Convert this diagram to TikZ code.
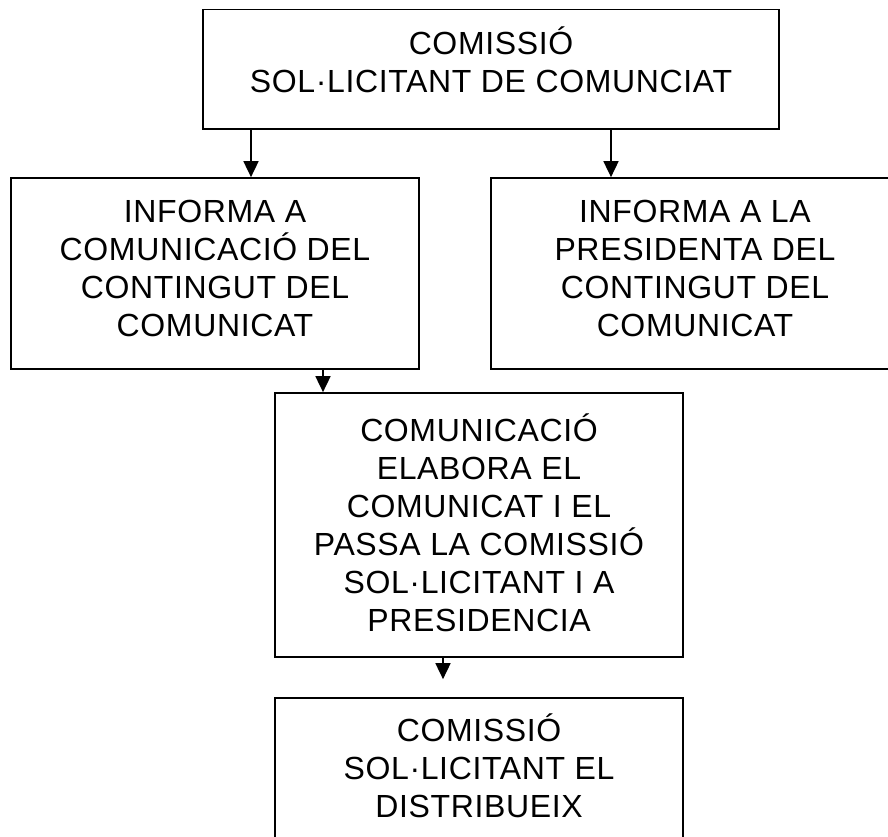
\documentclass[tikz,border=0pt]{standalone}
\usepackage{fontspec}
\setmainfont[LetterSpace=2]{Liberation Sans}
\usetikzlibrary{arrows.meta}
\tikzset{
  flowbox/.style={draw=black, line width=1.7pt, fill=white, inner sep=0pt,
    align=center, font=\fontsize{32}{38}\selectfont},
  flowarrow/.style={line width=1.7pt, -{Triangle[length=16pt,width=15pt]}}
}
\begin{document}
\begin{tikzpicture}[x=1pt,y=-1pt]
\useasboundingbox (0,0) rectangle (888,837);
\fill[white] (0,0) rectangle (888,837);
\clip (0,0) rectangle (888,837);
% boxes
\node[flowbox, minimum width=576pt, minimum height=119.5pt] (top) at (491,69.25)
  {\rule{0pt}{32pt}COMISSIÓ\\SOL·LICITANT DE COMUNCIAT\rule[-22.5pt]{0pt}{22.5pt}};
\node[flowbox, minimum width=408pt, minimum height=191pt] (left) at (215,273.5)
  {\rule{0pt}{32pt}INFORMA A\\COMUNICACIÓ DEL\\CONTINGUT DEL\\COMUNICAT\rule[-21pt]{0pt}{21pt}};
\node[flowbox, minimum width=408pt, minimum height=191pt] (right) at (695,273.5)
  {\rule{0pt}{32pt}INFORMA A LA\\PRESIDENTA DEL\\CONTINGUT DEL\\COMUNICAT\rule[-21pt]{0pt}{21pt}};
\node[flowbox, minimum width=408pt, minimum height=264pt] (mid) at (479,525)
  {\rule{0pt}{32pt}COMUNICACIÓ\\ELABORA EL\\COMUNICAT I EL\\PASSA LA COMISSIÓ\\SOL·LICITANT I A\\PRESIDENCIA\rule[-10pt]{0pt}{10pt}};
\node[flowbox, minimum width=408pt, minimum height=172pt] (bot) at (479,784)
  {\rule{0pt}{32pt}COMISSIÓ\\SOL·LICITANT EL\\DISTRIBUEIX\rule[-42pt]{0pt}{42pt}};
% arrow columns
\coordinate (c1) at (251,0);
\coordinate (c2) at (611,0);
\coordinate (c3) at (323,0);
\coordinate (c4) at (443,0);
\draw[flowarrow] (top.south -| c1) -- (left.north -| c1);
\draw[flowarrow] (top.south -| c2) -- (right.north -| c2);
\draw[flowarrow] (left.south -| c3) -- (mid.north -| c3);
\draw[flowarrow, shorten >=18pt] (mid.south -| c4) -- (bot.north -| c4);
\end{tikzpicture}
\end{document}
